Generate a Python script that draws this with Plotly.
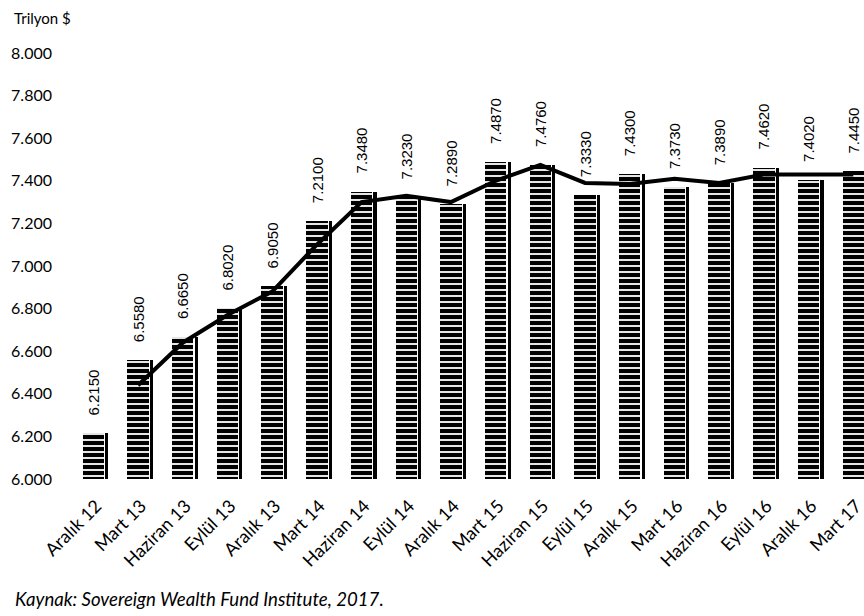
import plotly.graph_objects as go

categories = ["Aralık 12", "Mart 13", "Haziran 13", "Eylül 13", "Aralık 13", "Mart 14",
              "Haziran 14", "Eylül 14", "Aralık 14", "Mart 15", "Haziran 15", "Eylül 15",
              "Aralık 15", "Mart 16", "Haziran 16", "Eylül 16", "Aralık 16", "Mart 17"]
values = [6.215, 6.558, 6.665, 6.802, 6.905, 7.210, 7.348, 7.323, 7.289, 7.487,
          7.476, 7.333, 7.430, 7.373, 7.389, 7.462, 7.402, 7.445]
# trend line (starts at the second category)
line_cats = categories[1:]
line_values = [6.44, 6.64, 6.77, 6.88, 7.10, 7.30, 7.33, 7.30, 7.40, 7.475,
               7.39, 7.385, 7.41, 7.39, 7.43, 7.43, 7.43]
y_ticks = [6.0, 6.2, 6.4, 6.6, 6.8, 7.0, 7.2, 7.4, 7.6, 7.8, 8.0]

xpos = list(range(len(categories)))
line_x = [categories.index(c) for c in line_cats]

fig = go.Figure()
fig.add_trace(go.Bar(
    x=xpos, y=values, base=0, width=0.48,
    marker=dict(color="black", line=dict(width=0),
                pattern=dict(shape="-", bgcolor="black", fgcolor="white",
                             size=6, solidity=0.3, fillmode="replace")),
    showlegend=False, hoverinfo="skip"))
fig.add_trace(go.Bar(
    x=xpos, y=values, width=0.07, offset=0.265,
    marker=dict(color="black", line=dict(width=0)),
    showlegend=False, hoverinfo="skip"))
fig.add_trace(go.Scatter(
    x=line_x, y=line_values, mode="lines",
    line=dict(color="black", width=4),
    showlegend=False, hoverinfo="skip"))

for i, v in enumerate(values):
    fig.add_annotation(x=i, y=v, text=f"{v:.4f}", textangle=-90,
                       showarrow=False, yanchor="bottom", xanchor="center",
                       yshift=16, font=dict(family="Liberation Sans", size=15, color="black"))

L, T, B = 71, 53, 137
W, H = 864, 616
pw, ph = W - L, H - T - B

fig.add_annotation(xref="paper", yref="paper", x=-(L - 12) / pw, y=1 + 35 / ph, xanchor="left",
                   yanchor="middle", text="Trilyon $", showarrow=False,
                   font=dict(family="Lato", size=15, color="black"))
fig.add_annotation(xref="paper", yref="paper", x=-(L - 13) / pw, y=-120 / ph, xanchor="left",
                   yanchor="middle", text="<i>Kaynak: Sovereign Wealth Fund Institute, 2017.</i>",
                   showarrow=False, font=dict(family="Lato", size=18.6, color="black"))

fig.update_layout(
    width=W, height=H,
    margin=dict(l=L, r=0, t=T, b=B, autoexpand=False),
    plot_bgcolor="white", paper_bgcolor="white",
    barmode="overlay", bargap=0,
    font=dict(family="Lato", color="black"),
    xaxis=dict(range=[-0.5, 17.24], tickvals=xpos, ticktext=categories, tickangle=-45,
               showgrid=False, zeroline=False, showline=False, ticks="",
               automargin=False, ticklabelstandoff=12, ticklabelshift=3,
               ticklabeloverflow="allow",
               tickfont=dict(family="Lato", size=18)),
    yaxis=dict(range=[6.0, 8.0], tickvals=y_ticks, tickformat=".3f",
               showgrid=False, zeroline=False, showline=False, ticks="",
               automargin=False, ticklabelstandoff=18,
               tickfont=dict(family="Lato", size=16)),
)

fig.write_html("out.html", config={"displayModeBar": False},
               post_script="document.body.style.margin='0';document.body.style.padding='0';")
